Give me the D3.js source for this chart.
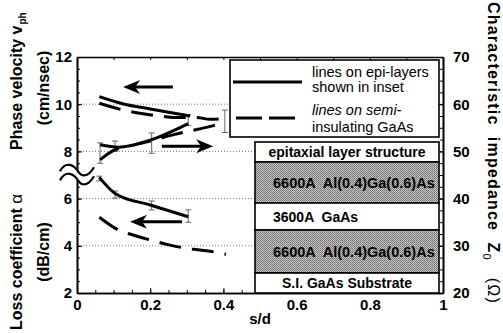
<!DOCTYPE html>
<html>
<head>
<meta charset="utf-8">
<script src="https://cdn.jsdelivr.net/npm/d3@7"></script>
<style>
  body { margin: 0; background: #fff; }
  svg { display: block; font-family: "Liberation Sans", Arial, sans-serif; }
  text { white-space: pre; }
</style>
</head>
<body>
<svg width="503" height="333"></svg>
<script>
// phase velocity (left axis, cm/nsec)
const velEpiX = [0.061, 0.127, 0.2, 0.309];
const velEpiY = [10.32, 10.01, 9.8, 9.5];
const velSiX = [0.061, 0.127, 0.163, 0.227, 0.268, 0.327, 0.363, 0.404];
const velSiY = [10.04, 9.75, 9.64, 9.5, 9.44, 9.44, 9.36, 9.4];

// characteristic impedance (right axis, ohm)
const impEpiX = [0.063, 0.113, 0.2, 0.304];
const impEpiY = [51.4, 50.9, 52.4, 55.9];
const impSiX = [0.063, 0.1, 0.137, 0.2, 0.262, 0.33, 0.37, 0.404];
const impSiY = [48.2, 50.2, 51.0, 52.2, 53.5, 54.7, 55.4, 56.1];

// loss coefficient (left axis, dB/cm)
const lossEpiX = [0.061, 0.104, 0.2, 0.304];
const lossEpiY = [6.9, 6.22, 5.73, 5.23];
const lossSiX = [0.061, 0.117, 0.153, 0.218, 0.254, 0.318, 0.354, 0.407];
const lossSiY = [5.21, 4.64, 4.46, 4.17, 4.03, 3.85, 3.79, 3.64];

// error bars
const velErrX = [0.304, 0.404], velErrLo = [9.1, 8.8], velErrHi = [9.55, 9.75];
const impErrX = [0.063, 0.104, 0.204], impErrLo = [47.5, 50.0, 49.6], impErrHi = [51.8, 52.2, 53.9];
const lossErrX = [0.061, 0.104, 0.204, 0.304], lossErrLo = [6.75, 6.02, 5.52, 5.0], lossErrHi = [6.95, 6.32, 5.9, 5.52];

// direction arrows [x tail, x tip, y, axis]
const arrows = [
  [0.262, 0.126, 10.73, "L"],
  [0.232, 0.372, 51.1, "R"],
  [0.287, 0.145, 5.02, "L"]
];

const xTicks = [0, 0.2, 0.4, 0.6, 0.8, 1];
const leftTicks = [2, 4, 6, 8, 10, 12];
const rightTicks = [20, 30, 40, 50, 60, 70];
const gridVals = [4, 6, 8, 10];

const layers = [
  {label: "6600A  Al(0.4)Ga(0.6)As", gray: true},
  {label: "3600A  GaAs", gray: false},
  {label: "6600A  Al(0.4)Ga(0.6)As", gray: true},
  {label: "S.I. GaAs Substrate", gray: false}
];

const svg = d3.select("svg");
const pLeft = 77, pRight = 443, pTop = 57, pBottom = 293;

const x = d3.scaleLinear().domain([0, 1]).range([pLeft, pRight]);
const yL = d3.scaleLinear().domain([2, 12]).range([pBottom, pTop]);
const yR = d3.scaleLinear().domain([20, 70]).range([pBottom, pTop]);

const defs = svg.append("defs");
const pat = defs.append("pattern").attr("id", "dither")
  .attr("width", 2).attr("height", 2).attr("patternUnits", "userSpaceOnUse");
pat.append("rect").attr("width", 2).attr("height", 2).attr("fill", "#c6c6c6");
pat.append("rect").attr("width", 1).attr("height", 1).attr("fill", "#6e6e6e");
pat.append("rect").attr("x", 1).attr("y", 1).attr("width", 1).attr("height", 1).attr("fill", "#848484");

// dotted grid
svg.append("g").selectAll("line").data(gridVals).enter().append("line")
  .attr("x1", pLeft).attr("x2", pRight)
  .attr("y1", d => yL(d)).attr("y2", d => yL(d))
  .attr("stroke", "#777").attr("stroke-width", 1).attr("stroke-dasharray", "1,2");

// axes
const tickFont = g => g.selectAll("text")
  .attr("font-size", 15).attr("font-weight", "bold").attr("fill", "#000");

const gl = svg.append("g").attr("transform", `translate(${pLeft},0)`);
gl.call(d3.axisLeft(yL).tickValues(d3.range(2, 12.01, 0.5)).tickFormat("").tickSize(-3).tickSizeOuter(0));
gl.append("g").call(d3.axisLeft(yL).tickValues(leftTicks).tickSize(-5).tickSizeOuter(0).tickPadding(5));
gl.call(tickFont);

const gr = svg.append("g").attr("transform", `translate(${pRight},0)`);
gr.call(d3.axisRight(yR).tickValues(d3.range(20, 70.01, 2.5)).tickFormat("").tickSize(-3).tickSizeOuter(0));
gr.append("g").call(d3.axisRight(yR).tickValues(rightTicks).tickSize(-5).tickSizeOuter(0).tickPadding(10));
gr.call(tickFont);

const gb = svg.append("g").attr("transform", `translate(0,${pBottom})`);
gb.call(d3.axisBottom(x).tickValues(d3.range(0, 1.001, 0.05)).tickFormat("").tickSize(-3).tickSizeOuter(0));
gb.append("g").call(d3.axisBottom(x).tickValues(xTicks).tickFormat(d => (d === 0 || d === 1) ? d : d3.format(".1f")(d))
  .tickSize(-5).tickSizeOuter(0).tickPadding(6));
gb.call(tickFont);

const gt = svg.append("g").attr("transform", `translate(0,${pTop})`);
gt.call(d3.axisTop(x).tickValues(d3.range(0, 1.001, 0.1)).tickFormat("").tickSize(-3).tickSizeOuter(0));

svg.selectAll(".domain").attr("stroke", "#000").attr("stroke-width", 1.6);
svg.selectAll(".tick line").attr("stroke", "#000");

// error bars
function errBars(xs, lo, hi, y) {
  const g = svg.append("g").attr("stroke", "#666").attr("stroke-width", 1);
  xs.forEach((v, i) => {
    g.append("line").attr("x1", x(v)).attr("x2", x(v)).attr("y1", y(lo[i])).attr("y2", y(hi[i]));
    [lo[i], hi[i]].forEach(e => g.append("line")
      .attr("x1", x(v) - 3).attr("x2", x(v) + 3).attr("y1", y(e)).attr("y2", y(e)));
  });
}
errBars(velErrX, velErrLo, velErrHi, yL);
errBars(impErrX, impErrLo, impErrHi, yR);
errBars(lossErrX, lossErrLo, lossErrHi, yL);

// curves
function curve(xs, ys, y, dashed) {
  const pts = xs.map((v, i) => [v, ys[i]]);
  const line = d3.line().x(d => x(d[0])).y(d => y(d[1])).curve(d3.curveMonotoneX);
  svg.append("path").attr("d", line(pts)).attr("fill", "none")
    .attr("stroke", "#000").attr("stroke-width", 3)
    .attr("stroke-dasharray", dashed ? "22,11" : null);
}
curve(velEpiX, velEpiY, yL, false);
curve(velSiX, velSiY, yL, true);
curve(impEpiX, impEpiY, yR, false);
curve(impSiX, impSiY, yR, true);
curve(lossEpiX, lossEpiY, yL, false);
curve(lossSiX, lossSiY, yL, true);

// arrows
arrows.forEach(a => {
  const yy = (a[3] === "L" ? yL : yR)(a[2]);
  const x0 = x(a[0]), x1 = x(a[1]);
  const dir = x1 > x0 ? 1 : -1;
  svg.append("line").attr("x1", x0).attr("x2", x1 - dir * 10).attr("y1", yy).attr("y2", yy)
    .attr("stroke", "#000").attr("stroke-width", 3);
  svg.append("path")
    .attr("d", `M${x1},${yy} L${x1 - dir * 17},${yy - 7} L${x1 - dir * 12},${yy} L${x1 - dir * 17},${yy + 7} Z`)
    .attr("fill", "#000");
});

// axis break
const by = yL(7.2);
const wave = dy => `M60,${by + dy + 2} C66,${by + dy - 9} 74,${by + dy - 4} 78,${by + dy + 2} S88,${by + dy + 8} 94,${by + dy - 2}`;
svg.append("path").attr("d", wave(0)).attr("transform", "translate(0,4)")
  .attr("fill", "none").attr("stroke", "#fff").attr("stroke-width", 6);
svg.append("path").attr("d", wave(-1)).attr("fill", "none").attr("stroke", "#000").attr("stroke-width", 2.2);
svg.append("path").attr("d", wave(8)).attr("fill", "none").attr("stroke", "#000").attr("stroke-width", 2.2);

// legend
const lg = svg.append("g");
lg.append("rect").attr("x", 230).attr("y", 60).attr("width", 209).attr("height", 77)
  .attr("fill", "#fff").attr("stroke", "#000").attr("stroke-width", 1.6);
lg.append("line").attr("x1", 233).attr("x2", 302).attr("y1", 82).attr("y2", 82)
  .attr("stroke", "#000").attr("stroke-width", 3);
lg.append("line").attr("x1", 236).attr("x2", 300).attr("y1", 118).attr("y2", 118)
  .attr("stroke", "#000").attr("stroke-width", 3).attr("stroke-dasharray", "26,7");
const lt = (t, yy, it) => lg.append("text").attr("x", 312).attr("y", yy).text(t)
  .attr("font-size", 14.5).attr("font-style", it ? "italic" : null);
lt("lines on epi-layers", 77);
lt("shown in inset", 92);
lt("lines on semi-", 115, true);
lt("insulating GaAs", 132);

// inset: epitaxial layer structure
const ix0 = 255, ix1 = 439;
const ins = svg.append("g").attr("font-weight", "bold").attr("font-size", 14);
ins.append("rect").attr("x", ix0).attr("y", 142).attr("width", ix1 - ix0).attr("height", 20)
  .attr("fill", "#fff").attr("stroke", "#000").attr("stroke-width", 1.6);
ins.append("text").attr("x", (ix0 + ix1) / 2).attr("y", 157).attr("text-anchor", "middle")
  .text("epitaxial layer structure");
const layerTop = [162, 203, 230, 273, pBottom];
layers.forEach((l, i) => {
  ins.append("rect").attr("x", ix0).attr("y", layerTop[i]).attr("width", ix1 - ix0)
    .attr("height", layerTop[i + 1] - layerTop[i])
    .attr("fill", l.gray ? "url(#dither)" : "#fff").attr("stroke", "#000").attr("stroke-width", 1.6);
  const cy = (layerTop[i] + layerTop[i + 1]) / 2 + 5;
  if (i === 3) {
    ins.append("text").attr("x", (ix0 + ix1) / 2).attr("y", cy).attr("text-anchor", "middle").text(l.label);
  } else {
    ins.append("text").attr("x", 273).attr("y", cy).text(l.label)
      .attr("font-size", l.gray ? 14.5 : 14);
  }
});

// axis titles
const title = svg.append("g").attr("font-weight", "bold").attr("font-size", 16);
const pv = title.append("text").attr("transform", "translate(22,150) rotate(-90)");
pv.append("tspan").text("Phase velocity v");
pv.append("tspan").text("ph").attr("font-size", 10).attr("dy", 4).attr("dx", 1);
title.append("text").attr("transform", "translate(49,88) rotate(-90)").attr("text-anchor", "middle")
  .text("(cm/nsec)");
const lc = title.append("text").attr("transform", "translate(22,330) rotate(-90)");
lc.append("tspan").text("Loss coefficient ");
lc.append("tspan").text("α").attr("font-weight", "normal").attr("font-size", 17);
title.append("text").attr("transform", "translate(49,252) rotate(-90)").attr("text-anchor", "middle")
  .text("(dB/cm)");

const ci = title.append("text").attr("transform", "translate(488,2) rotate(90)")
  .attr("letter-spacing", 1.2);
ci.append("tspan").text("Characteristic  impedance  Z");
ci.append("tspan").text("0").attr("font-size", 11).attr("dy", 5).attr("font-weight", "normal");
ci.append("tspan").text("   (Ω)").attr("dy", -5).attr("font-weight", "normal");

svg.append("text").attr("x", 260).attr("y", 324).attr("text-anchor", "middle")
  .attr("font-weight", "bold").attr("font-size", 15).text("s/d");
</script>
</body>
</html>
